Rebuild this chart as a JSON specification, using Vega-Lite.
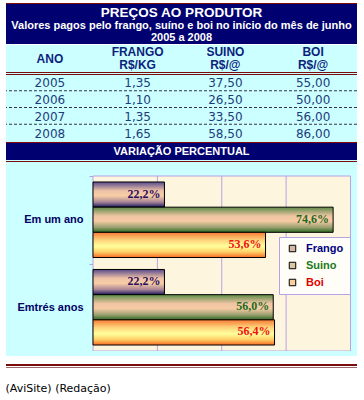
{
  "$schema": "https://vega.github.io/schema/vega-lite/v6.json",
  "padding": {"left": 5, "right": 8, "top": 3, "bottom": 0},
  "background": "#ffffff",
  "spacing": 0,
  "bounds": "flush",
  "config": {
    "view": {"stroke": null},
    "locale": {"number": {"decimal": ",", "thousands": ".", "grouping": [3], "currency": ["R$ ", ""]}}
  },
  "title": {"text": "(AviSite) (Redação)", "orient": "bottom", "anchor": "start", "font": "DejaVu Sans", "fontSize": 11, "fontWeight": "normal", "color": "#000000", "offset": 15},
  "vconcat": [
    {"width": 351, "height": 1, "view": {"fill": "#7b0c0c"}, "data": {"values": [{}]}, "mark": {"type": "text", "text": "", "fontSize": 0}, "encoding": {}},
    {
      "width": 351, "height": 40, "view": {"fill": "#000070"},
      "data": {"values": [
        {"linha": 1, "texto": "PREÇOS AO PRODUTOR"},
        {"linha": 2, "texto": "Valores pagos pelo frango, suíno e boi no início do mês de junho"},
        {"linha": 3, "texto": "2005 a 2008"}
      ]},
      "encoding": {
        "y": {"field": "linha", "type": "ordinal", "axis": null, "scale": {"type": "point", "domain": [1, 2, 3], "padding": 0.6, "align": 0.6}},
        "text": {"field": "texto"}
      },
      "layer": [
        {"transform": [{"filter": "datum.linha === 1"}], "mark": {"type": "text", "font": "Liberation Sans", "fontSize": 13.5, "fontWeight": "bold", "color": "#ffffff"}},
        {"transform": [{"filter": "datum.linha > 1"}], "mark": {"type": "text", "font": "Liberation Sans", "fontSize": 11, "fontWeight": "bold", "color": "#ffffff"}}
      ]
    },
    {"width": 351, "height": 1, "view": {"fill": "#ffffff"}, "data": {"values": [{}]}, "mark": {"type": "text", "text": "", "fontSize": 0}, "encoding": {}},
    {
      "width": 351, "height": 27, "view": {"fill": "#ccffff"},
      "data": {"values": [
        {"coluna": "ANO", "rotulo": "ANO"},
        {"coluna": "FRANGO", "rotulo": "FRANGO\nR$/KG"},
        {"coluna": "SUINO", "rotulo": "SUINO\nR$/@"},
        {"coluna": "BOI", "rotulo": "BOI\nR$/@"}
      ]},
      "layer": [
        {
          "transform": [{"filter": "datum.coluna === 'ANO'"}],
          "mark": {"type": "text", "font": "Liberation Sans", "fontSize": 12, "fontWeight": "bold", "color": "#0d1f7c"},
          "encoding": {
            "x": {"field": "coluna", "type": "nominal", "axis": null, "scale": {"type": "band", "domain": ["ANO", "FRANGO", "SUINO", "BOI"], "paddingInner": 0, "paddingOuter": 0}},
            "text": {"field": "rotulo"}
          }
        },
        {
          "transform": [{"filter": "datum.coluna !== 'ANO'"}],
          "mark": {"type": "text", "font": "Liberation Sans", "fontSize": 12, "fontWeight": "bold", "color": "#0d1f7c", "lineBreak": "\n", "lineHeight": 13, "dy": -6.5},
          "encoding": {
            "x": {"field": "coluna", "type": "nominal", "axis": null, "scale": {"type": "band", "domain": ["ANO", "FRANGO", "SUINO", "BOI"], "paddingInner": 0, "paddingOuter": 0}},
            "text": {"field": "rotulo"}
          }
        }
      ]
    },
    {"width": 351, "height": 1, "view": {"fill": "#7b0c0c"}, "data": {"values": [{}]}, "mark": {"type": "text", "text": "", "fontSize": 0}, "encoding": {}},
    {"width": 351, "height": 1, "view": {"fill": "#ccffff"}, "data": {"values": [{}]}, "mark": {"type": "text", "text": "", "fontSize": 0}, "encoding": {}},
    {"width": 351, "height": 1, "view": {"fill": "#7b0c0c"}, "data": {"values": [{}]}, "mark": {"type": "text", "text": "", "fontSize": 0}, "encoding": {}},
    {
      "width": 351, "height": 67, "view": {"fill": "#ccffff"},
      "data": {"values": [
        {"ano": "2005", "FRANGO": 1.35, "SUINO": 37.5, "BOI": 55.0},
        {"ano": "2006", "FRANGO": 1.10, "SUINO": 26.5, "BOI": 50.0},
        {"ano": "2007", "FRANGO": 1.35, "SUINO": 33.5, "BOI": 56.0},
        {"ano": "2008", "FRANGO": 1.65, "SUINO": 58.5, "BOI": 86.0}
      ]},
      "encoding": {
        "y": {"field": "ano", "type": "ordinal", "axis": null, "scale": {"type": "band", "domain": ["2005", "2006", "2007", "2008"], "paddingInner": 0, "paddingOuter": 0}}
      },
      "layer": [
        {
          "transform": [{"filter": "datum.ano !== '2005'"}],
          "mark": {"type": "rule", "color": "#333344", "strokeDash": [3, 2], "strokeWidth": 1, "yOffset": -1},
          "encoding": {"y": {"field": "ano", "type": "ordinal", "bandPosition": 0}}
        },
        {
          "mark": {"type": "text", "font": "DejaVu Sans", "fontSize": 12, "color": "#1c3c7c"},
          "encoding": {
            "x": {"datum": "ANO", "type": "nominal", "axis": null, "scale": {"type": "band", "domain": ["ANO", "FRANGO", "SUINO", "BOI"], "paddingInner": 0, "paddingOuter": 0}},
            "text": {"field": "ano"}
          }
        },
        {
          "transform": [{"fold": ["FRANGO", "SUINO", "BOI"], "as": ["coluna", "preco"]}],
          "mark": {"type": "text", "font": "DejaVu Sans", "fontSize": 12, "color": "#1c3c7c"},
          "encoding": {
            "x": {"field": "coluna", "type": "nominal", "axis": null, "scale": {"type": "band", "domain": ["ANO", "FRANGO", "SUINO", "BOI"], "paddingInner": 0, "paddingOuter": 0}},
            "text": {"field": "preco", "type": "quantitative", "format": ",.2f"}
          }
        }
      ]
    },
    {"width": 351, "height": 1, "view": {"fill": "#7b0c0c"}, "data": {"values": [{}]}, "mark": {"type": "text", "text": "", "fontSize": 0}, "encoding": {}},
    {
      "width": 351, "height": 17, "view": {"fill": "#000070"},
      "data": {"values": [{"texto": "VARIAÇÃO PERCENTUAL"}]},
      "mark": {"type": "text", "font": "Liberation Sans", "fontSize": 11, "fontWeight": "bold", "color": "#ffffff"},
      "encoding": {"text": {"field": "texto"}}
    },
    {"width": 351, "height": 1, "view": {"fill": "#ccffff"}, "data": {"values": [{}]}, "mark": {"type": "text", "text": "", "fontSize": 0}, "encoding": {}},
    {"width": 351, "height": 1, "view": {"fill": "#7b0c0c"}, "data": {"values": [{}]}, "mark": {"type": "text", "text": "", "fontSize": 0}, "encoding": {}},
    {"width": 351, "height": 14, "view": {"fill": "#ccffff"}, "data": {"values": [{}]}, "mark": {"type": "text", "text": "", "fontSize": 0}, "encoding": {}},
    {
      "width": 351, "height": 175, "view": {"fill": "#ccffff"},
      "data": {"values": [
        {"grupo": "Em um ano", "serie": "Frango", "variacao": 0.222},
        {"grupo": "Em um ano", "serie": "Suino", "variacao": 0.746},
        {"grupo": "Em um ano", "serie": "Boi", "variacao": 0.536},
        {"grupo": "Emtrés anos", "serie": "Frango", "variacao": 0.222},
        {"grupo": "Emtrés anos", "serie": "Suino", "variacao": 0.560},
        {"grupo": "Emtrés anos", "serie": "Boi", "variacao": 0.564}
      ]},
      "layer": [
        {
          "data": {"values": [{"inicio": 0, "fim": 0.8}]},
          "mark": {"type": "rect", "fill": "#fdf5de", "stroke": "#b8a2e6", "strokeWidth": 1},
          "encoding": {
            "x": {"field": "inicio", "type": "quantitative", "axis": null, "scale": {"domain": [-0.2703, 0.8202], "nice": false}},
            "x2": {"field": "fim"}
          }
        },
        {
          "data": {"values": [{"grade": 0.2}, {"grade": 0.4}, {"grade": 0.6}]},
          "mark": {"type": "rule", "color": "#b8a2e6", "strokeWidth": 1},
          "encoding": {"x": {"field": "grade", "type": "quantitative"}}
        },
        {
          "mark": {"type": "square", "size": 42, "stroke": "#000000", "strokeWidth": 1, "opacity": 1, "filled": true},
          "encoding": {
            "x": {"datum": 0.03, "type": "quantitative"},
            "y": {"field": "grupo", "type": "nominal", "scale": {"type": "band", "domain": ["Em um ano", "Emtrés anos"], "paddingInner": 0, "paddingOuter": 0},
              "axis": {"title": null, "orient": "left", "offset": -87, "domainColor": "#b8a2e6", "tickColor": "#b8a2e6", "tickSize": 4, "tickBand": "extent", "labelPadding": 6, "labelFont": "Liberation Sans", "labelFontSize": 11, "labelFontWeight": "bold", "labelColor": "#000066", "grid": false}},
            "yOffset": {"field": "serie", "type": "nominal", "scale": {"domain": ["Frango", "Suino", "Boi"], "paddingInner": 0, "paddingOuter": 0.237}},
            "color": {"field": "serie", "type": "nominal",
              "scale": {"domain": ["Frango", "Suino", "Boi"], "range": ["#d6b9a3", "#d9c8a0", "#f7d09c"]},
              "legend": {"title": null, "orient": "none", "legendX": 273, "legendY": 234, "symbolType": "square", "symbolSize": 42, "symbolOffset": 2, "symbolStrokeColor": "#000000", "symbolStrokeWidth": 1, "symbolOpacity": 1, "labelOffset": 8, "labelFont": "Liberation Sans", "labelFontSize": 11, "labelFontWeight": "bold",
                "labelColor": {"expr": "datum.value === 'Frango' ? '#000080' : datum.value === 'Suino' ? '#1a7a1a' : '#e00000'"},
                "padding": 6, "rowPadding": 5, "fillColor": "#fffdf7", "strokeColor": "#b8a2e6"}}
          }
        },
        {
          "mark": {"type": "bar", "stroke": "#000000", "strokeWidth": 1},
          "encoding": {
            "x": {"field": "variacao", "type": "quantitative"},
            "y": {"field": "grupo", "type": "nominal"},
            "yOffset": {"field": "serie", "type": "nominal"},
            "fill": {
              "condition": [
                {"test": "datum.serie === 'Frango'", "value": {"gradient": "linear", "x1": 0, "y1": 0, "x2": 0, "y2": 1, "stops": [
                  {"offset": 0, "color": "#574a8c"}, {"offset": 0.35, "color": "#eec2a6"}, {"offset": 0.55, "color": "#f7cea6"}, {"offset": 0.8, "color": "#a88496"}, {"offset": 1, "color": "#1a1a60"}]}},
                {"test": "datum.serie === 'Suino'", "value": {"gradient": "linear", "x1": 0, "y1": 0, "x2": 0, "y2": 1, "stops": [
                  {"offset": 0, "color": "#5a8a48"}, {"offset": 0.35, "color": "#eec4a2"}, {"offset": 0.55, "color": "#f6cba4"}, {"offset": 0.8, "color": "#9aa070"}, {"offset": 1, "color": "#2c6a22"}]}}
              ],
              "value": {"gradient": "linear", "x1": 0, "y1": 0, "x2": 0, "y2": 1, "stops": [
                {"offset": 0, "color": "#f87a34"}, {"offset": 0.3, "color": "#ffd27a"}, {"offset": 0.55, "color": "#ffff9c"}, {"offset": 0.78, "color": "#ffd066"}, {"offset": 1, "color": "#f86a24"}]}
            }
          }
        },
        {
          "mark": {"type": "text", "font": "Liberation Serif", "fontSize": 12, "fontWeight": "bold", "align": "right", "baseline": "middle", "dx": -4, "dy": -1},
          "encoding": {
            "x": {"field": "variacao", "type": "quantitative"},
            "y": {"field": "grupo", "type": "nominal"},
            "yOffset": {"field": "serie", "type": "nominal"},
            "text": {"field": "variacao", "type": "quantitative", "format": ".1%"},
            "fill": {
              "condition": [
                {"test": "datum.serie === 'Frango'", "value": "#2b0f5e"},
                {"test": "datum.serie === 'Suino'", "value": "#1f6a1f"}
              ],
              "value": "#ee1111"
            }
          }
        }
      ]
    },
    {"width": 351, "height": 5, "view": {"fill": "#ccffff"}, "data": {"values": [{}]}, "mark": {"type": "text", "text": "", "fontSize": 0}, "encoding": {}},
    {"width": 351, "height": 8, "view": {"fill": "#ffffff"}, "data": {"values": [{}]}, "mark": {"type": "text", "text": "", "fontSize": 0}, "encoding": {}},
    {"width": 351, "height": 2, "view": {"fill": "#7b0c0c"}, "data": {"values": [{}]}, "mark": {"type": "text", "text": "", "fontSize": 0}, "encoding": {}},
    {"width": 351, "height": 1, "view": {"fill": "#ffffff"}, "data": {"values": [{}]}, "mark": {"type": "text", "text": "", "fontSize": 0}, "encoding": {}},
    {"width": 351, "height": 1, "view": {"fill": "#9a6a6a"}, "data": {"values": [{}]}, "mark": {"type": "text", "text": "", "fontSize": 0}, "encoding": {}}
  ]
}
